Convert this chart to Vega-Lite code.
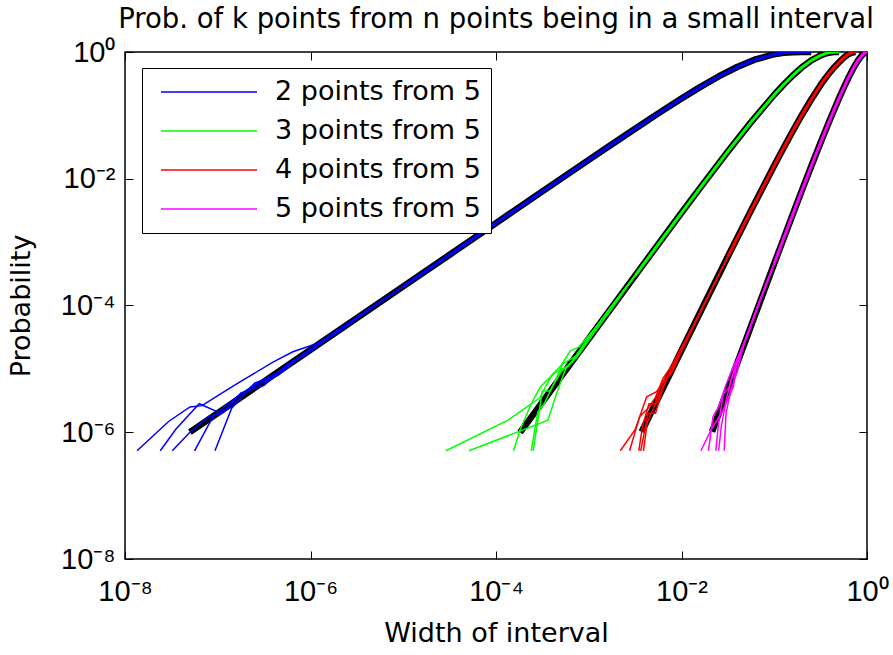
{
  "$schema": "https://vega.github.io/schema/vega-lite/v6.json",
  "width": 742,
  "height": 507,
  "autosize": {"type": "none"},
  "padding": {"left": 125, "top": 52, "right": 26, "bottom": 96},
  "background": "white",
  "title": {"text": "Prob. of k points from n points being in a small interval", "font": "DejaVu Sans", "fontSize": 27.5, "fontWeight": "normal", "color": "black", "anchor": "middle", "offset": 5},
  "config": {
    "view": {"stroke": "black", "strokeWidth": 1.5},
    "axis": {"grid": false, "domain": false}
  },
  "datasets": {
    "theory": [
      {"s": "2 points from 5", "w": 5.012e-8, "p": 1.0024e-6},
      {"s": "2 points from 5", "w": 1e-6, "p": 2e-5},
      {"s": "2 points from 5", "w": 1e-5, "p": 1.9998e-4},
      {"s": "2 points from 5", "w": 3.1623e-5, "p": 6.3244e-4},
      {"s": "2 points from 5", "w": 1e-4, "p": 1.9984e-3},
      {"s": "2 points from 5", "w": 3.1623e-4, "p": 6.309e-3},
      {"s": "2 points from 5", "w": 1e-3, "p": 0.01984},
      {"s": "2 points from 5", "w": 1.7783e-3, "p": 0.035063},
      {"s": "2 points from 5", "w": 3.1623e-3, "p": 0.06167},
      {"s": "2 points from 5", "w": 5.6234e-3, "p": 0.10753},
      {"s": "2 points from 5", "w": 0.01, "p": 0.18463},
      {"s": "2 points from 5", "w": 0.015849, "p": 0.27924},
      {"s": "2 points from 5", "w": 0.025119, "p": 0.41104},
      {"s": "2 points from 5", "w": 0.039811, "p": 0.57979},
      {"s": "2 points from 5", "w": 0.063096, "p": 0.76647},
      {"s": "2 points from 5", "w": 0.1, "p": 0.92224},
      {"s": "2 points from 5", "w": 0.125893, "p": 0.96985},
      {"s": "2 points from 5", "w": 0.158489, "p": 0.99343},
      {"s": "2 points from 5", "w": 0.199526, "p": 0.99966},
      {"s": "2 points from 5", "w": 0.223872, "p": 0.999988},
      {"s": "2 points from 5", "w": 0.25, "p": 1},
      {"s": "3 points from 5", "w": 1.8197e-4, "p": 9.93e-7},
      {"s": "3 points from 5", "w": 3.1623e-4, "p": 2.996e-6},
      {"s": "3 points from 5", "w": 1e-3, "p": 2.99e-5},
      {"s": "3 points from 5", "w": 3.1623e-3, "p": 2.9685e-4},
      {"s": "3 points from 5", "w": 0.01, "p": 2.9016e-3},
      {"s": "3 points from 5", "w": 0.017783, "p": 8.9365e-3},
      {"s": "3 points from 5", "w": 0.031623, "p": 0.02696},
      {"s": "3 points from 5", "w": 0.056234, "p": 0.07826},
      {"s": "3 points from 5", "w": 0.1, "p": 0.2115},
      {"s": "3 points from 5", "w": 0.125893, "p": 0.30457},
      {"s": "3 points from 5", "w": 0.158489, "p": 0.42638},
      {"s": "3 points from 5", "w": 0.199526, "p": 0.57501},
      {"s": "3 points from 5", "w": 0.251189, "p": 0.73771},
      {"s": "3 points from 5", "w": 0.316228, "p": 0.88593},
      {"s": "3 points from 5", "w": 0.354813, "p": 0.94189},
      {"s": "3 points from 5", "w": 0.398107, "p": 0.97937},
      {"s": "3 points from 5", "w": 0.446684, "p": 0.99699},
      {"s": "3 points from 5", "w": 0.5, "p": 1},
      {"s": "4 points from 5", "w": 3.7154e-3, "p": 1.016e-6},
      {"s": "4 points from 5", "w": 0.01, "p": 1.9602e-5},
      {"s": "4 points from 5", "w": 0.017783, "p": 1.0851e-4},
      {"s": "4 points from 5", "w": 0.031623, "p": 5.9314e-4},
      {"s": "4 points from 5", "w": 0.056234, "p": 3.1689e-3},
      {"s": "4 points from 5", "w": 0.1, "p": 0.01622},
      {"s": "4 points from 5", "w": 0.125893, "p": 0.030554},
      {"s": "4 points from 5", "w": 0.158489, "p": 0.056583},
      {"s": "4 points from 5", "w": 0.199526, "p": 0.10243},
      {"s": "4 points from 5", "w": 0.251189, "p": 0.17974},
      {"s": "4 points from 5", "w": 0.316228, "p": 0.30203},
      {"s": "4 points from 5", "w": 0.354813, "p": 0.38313},
      {"s": "4 points from 5", "w": 0.398107, "p": 0.47716},
      {"s": "4 points from 5", "w": 0.446684, "p": 0.58129},
      {"s": "4 points from 5", "w": 0.5, "p": 0.6875},
      {"s": "4 points from 5", "w": 0.537032, "p": 0.765},
      {"s": "4 points from 5", "w": 0.57544, "p": 0.84},
      {"s": "4 points from 5", "w": 0.616595, "p": 0.905},
      {"s": "4 points from 5", "w": 0.660693, "p": 0.955},
      {"s": "4 points from 5", "w": 0.707946, "p": 0.988},
      {"s": "4 points from 5", "w": 0.75, "p": 1},
      {"s": "5 points from 5", "w": 0.02138, "p": 1.0268e-6},
      {"s": "5 points from 5", "w": 0.031623, "p": 4.8735e-6},
      {"s": "5 points from 5", "w": 0.039811, "p": 1.216e-5},
      {"s": "5 points from 5", "w": 0.056234, "p": 4.7751e-5},
      {"s": "5 points from 5", "w": 0.1, "p": 4.6e-4},
      {"s": "5 points from 5", "w": 0.125893, "p": 1.1295e-3},
      {"s": "5 points from 5", "w": 0.158489, "p": 2.7548e-3},
      {"s": "5 points from 5", "w": 0.199526, "p": 6.6596e-3},
      {"s": "5 points from 5", "w": 0.251189, "p": 0.0159055},
      {"s": "5 points from 5", "w": 0.316228, "p": 0.0373508},
      {"s": "5 points from 5", "w": 0.398107, "p": 0.085595},
      {"s": "5 points from 5", "w": 0.501187, "p": 0.188988},
      {"s": "5 points from 5", "w": 0.562341, "p": 0.275064},
      {"s": "5 points from 5", "w": 0.630957, "p": 0.392445},
      {"s": "5 points from 5", "w": 0.707946, "p": 0.544633},
      {"s": "5 points from 5", "w": 0.794328, "p": 0.725623},
      {"s": "5 points from 5", "w": 0.891251, "p": 0.905421},
      {"s": "5 points from 5", "w": 0.944061, "p": 0.972064},
      {"s": "5 points from 5", "w": 1, "p": 1}
    ],
    "sims": [
      {"s": "2 points from 5", "r": "b1", "w": 1.349e-8, "p": 5.1e-7},
      {"s": "2 points from 5", "r": "b1", "w": 2.951e-8, "p": 1.479e-6},
      {"s": "2 points from 5", "r": "b1", "w": 5.012e-8, "p": 2.512e-6},
      {"s": "2 points from 5", "r": "b1", "w": 6.761e-8, "p": 2.63e-6},
      {"s": "2 points from 5", "r": "b1", "w": 1.259e-7, "p": 4.677e-6},
      {"s": "2 points from 5", "r": "b1", "w": 1.905e-7, "p": 6.761e-6},
      {"s": "2 points from 5", "r": "b1", "w": 3.981e-7, "p": 1.288e-5},
      {"s": "2 points from 5", "r": "b1", "w": 6.457e-7, "p": 1.862e-5},
      {"s": "2 points from 5", "r": "b1", "w": 1.175e-6, "p": 2.512e-5},
      {"s": "2 points from 5", "r": "b1", "w": 2.512e-6, "p": 5.012e-5},
      {"s": "2 points from 5", "r": "b1", "w": 5.012e-6, "p": 1.023e-4},
      {"s": "2 points from 5", "r": "b1", "w": 1e-5, "p": 1.9998e-4},
      {"s": "2 points from 5", "r": "b2", "w": 2.399e-8, "p": 5.1e-7},
      {"s": "2 points from 5", "r": "b2", "w": 3.548e-8, "p": 1.122e-6},
      {"s": "2 points from 5", "r": "b2", "w": 6.31e-8, "p": 2.818e-6},
      {"s": "2 points from 5", "r": "b2", "w": 1e-7, "p": 2.089e-6},
      {"s": "2 points from 5", "r": "b2", "w": 1.585e-7, "p": 3.548e-6},
      {"s": "2 points from 5", "r": "b2", "w": 2.818e-7, "p": 6.31e-6},
      {"s": "2 points from 5", "r": "b2", "w": 5.012e-7, "p": 9.55e-6},
      {"s": "2 points from 5", "r": "b2", "w": 1e-6, "p": 2.042e-5},
      {"s": "2 points from 5", "r": "b2", "w": 1.995e-6, "p": 3.802e-5},
      {"s": "2 points from 5", "r": "b2", "w": 3.981e-6, "p": 7.943e-5},
      {"s": "2 points from 5", "r": "b2", "w": 1e-5, "p": 1.9998e-4},
      {"s": "2 points from 5", "r": "b3", "w": 3.236e-8, "p": 5.1e-7},
      {"s": "2 points from 5", "r": "b3", "w": 5.012e-8, "p": 1e-6},
      {"s": "2 points from 5", "r": "b3", "w": 7.943e-8, "p": 1.778e-6},
      {"s": "2 points from 5", "r": "b3", "w": 1.122e-7, "p": 1.995e-6},
      {"s": "2 points from 5", "r": "b3", "w": 1.778e-7, "p": 4.169e-6},
      {"s": "2 points from 5", "r": "b3", "w": 3.162e-7, "p": 5.495e-6},
      {"s": "2 points from 5", "r": "b3", "w": 5.623e-7, "p": 1.175e-5},
      {"s": "2 points from 5", "r": "b3", "w": 8.913e-7, "p": 1.66e-5},
      {"s": "2 points from 5", "r": "b3", "w": 1.585e-6, "p": 3.162e-5},
      {"s": "2 points from 5", "r": "b3", "w": 3.162e-6, "p": 6.31e-5},
      {"s": "2 points from 5", "r": "b3", "w": 1e-5, "p": 1.9998e-4},
      {"s": "2 points from 5", "r": "b4", "w": 9.333e-8, "p": 5.1e-7},
      {"s": "2 points from 5", "r": "b4", "w": 1.413e-7, "p": 2.399e-6},
      {"s": "2 points from 5", "r": "b4", "w": 2.239e-7, "p": 5.012e-6},
      {"s": "2 points from 5", "r": "b4", "w": 3.548e-7, "p": 6.761e-6},
      {"s": "2 points from 5", "r": "b4", "w": 6.31e-7, "p": 1.318e-5},
      {"s": "2 points from 5", "r": "b4", "w": 1.122e-6, "p": 2.188e-5},
      {"s": "2 points from 5", "r": "b4", "w": 1.995e-6, "p": 4.169e-5},
      {"s": "2 points from 5", "r": "b4", "w": 3.981e-6, "p": 7.943e-5},
      {"s": "2 points from 5", "r": "b4", "w": 1e-5, "p": 1.9998e-4},
      {"s": "2 points from 5", "r": "b5", "w": 5.623e-8, "p": 5.1e-7},
      {"s": "2 points from 5", "r": "b5", "w": 8.913e-8, "p": 1.778e-6},
      {"s": "2 points from 5", "r": "b5", "w": 1.413e-7, "p": 2.512e-6},
      {"s": "2 points from 5", "r": "b5", "w": 2.512e-7, "p": 6.026e-6},
      {"s": "2 points from 5", "r": "b5", "w": 4.467e-7, "p": 7.943e-6},
      {"s": "2 points from 5", "r": "b5", "w": 7.943e-7, "p": 1.585e-5},
      {"s": "2 points from 5", "r": "b5", "w": 1.413e-6, "p": 2.818e-5},
      {"s": "2 points from 5", "r": "b5", "w": 3.162e-6, "p": 6.607e-5},
      {"s": "2 points from 5", "r": "b5", "w": 1e-5, "p": 1.9998e-4},
      {"s": "3 points from 5", "r": "g1", "w": 2.884e-5, "p": 5.1e-7},
      {"s": "3 points from 5", "r": "g1", "w": 1.349e-4, "p": 1.549e-6},
      {"s": "3 points from 5", "r": "g1", "w": 2.951e-4, "p": 3.467e-6},
      {"s": "3 points from 5", "r": "g1", "w": 3.981e-4, "p": 7.943e-6},
      {"s": "3 points from 5", "r": "g1", "w": 5.012e-4, "p": 1.122e-5},
      {"s": "3 points from 5", "r": "g1", "w": 6.31e-4, "p": 1.905e-5},
      {"s": "3 points from 5", "r": "g1", "w": 7.943e-4, "p": 2.239e-5},
      {"s": "3 points from 5", "r": "g1", "w": 1.259e-3, "p": 5.012e-5},
      {"s": "3 points from 5", "r": "g1", "w": 3.1623e-3, "p": 2.9685e-4},
      {"s": "3 points from 5", "r": "g2", "w": 5.129e-5, "p": 5.1e-7},
      {"s": "3 points from 5", "r": "g2", "w": 3.631e-4, "p": 1.549e-6},
      {"s": "3 points from 5", "r": "g2", "w": 4.467e-4, "p": 3.981e-6},
      {"s": "3 points from 5", "r": "g2", "w": 5.623e-4, "p": 1e-5},
      {"s": "3 points from 5", "r": "g2", "w": 7.586e-4, "p": 1.585e-5},
      {"s": "3 points from 5", "r": "g2", "w": 1e-3, "p": 2.818e-5},
      {"s": "3 points from 5", "r": "g2", "w": 1.778e-3, "p": 8.913e-5},
      {"s": "3 points from 5", "r": "g2", "w": 3.1623e-3, "p": 2.9685e-4},
      {"s": "3 points from 5", "r": "g3", "w": 1.549e-4, "p": 5.1e-7},
      {"s": "3 points from 5", "r": "g3", "w": 1.82e-4, "p": 1.096e-6},
      {"s": "3 points from 5", "r": "g3", "w": 2.399e-4, "p": 2.818e-6},
      {"s": "3 points from 5", "r": "g3", "w": 3.02e-4, "p": 5.248e-6},
      {"s": "3 points from 5", "r": "g3", "w": 4.169e-4, "p": 8.318e-6},
      {"s": "3 points from 5", "r": "g3", "w": 6.026e-4, "p": 1.122e-5},
      {"s": "3 points from 5", "r": "g3", "w": 7.943e-4, "p": 1.82e-5},
      {"s": "3 points from 5", "r": "g3", "w": 1.122e-3, "p": 3.981e-5},
      {"s": "3 points from 5", "r": "g3", "w": 3.1623e-3, "p": 2.9685e-4},
      {"s": "3 points from 5", "r": "g4", "w": 2.399e-4, "p": 5.1e-7},
      {"s": "3 points from 5", "r": "g4", "w": 2.818e-4, "p": 2.089e-6},
      {"s": "3 points from 5", "r": "g4", "w": 3.311e-4, "p": 2.818e-6},
      {"s": "3 points from 5", "r": "g4", "w": 4.365e-4, "p": 6.607e-6},
      {"s": "3 points from 5", "r": "g4", "w": 5.248e-4, "p": 1.202e-5},
      {"s": "3 points from 5", "r": "g4", "w": 7.244e-4, "p": 1.585e-5},
      {"s": "3 points from 5", "r": "g4", "w": 1e-3, "p": 3.162e-5},
      {"s": "3 points from 5", "r": "g4", "w": 1.778e-3, "p": 1e-4},
      {"s": "3 points from 5", "r": "g4", "w": 3.1623e-3, "p": 2.9685e-4},
      {"s": "3 points from 5", "r": "g5", "w": 2.512e-4, "p": 5.1e-7},
      {"s": "3 points from 5", "r": "g5", "w": 3.162e-4, "p": 4.467e-6},
      {"s": "3 points from 5", "r": "g5", "w": 3.802e-4, "p": 4.467e-6},
      {"s": "3 points from 5", "r": "g5", "w": 5.012e-4, "p": 8.913e-6},
      {"s": "3 points from 5", "r": "g5", "w": 6.607e-4, "p": 1.318e-5},
      {"s": "3 points from 5", "r": "g5", "w": 8.913e-4, "p": 2.399e-5},
      {"s": "3 points from 5", "r": "g5", "w": 1.585e-3, "p": 7.943e-5},
      {"s": "3 points from 5", "r": "g5", "w": 3.1623e-3, "p": 2.9685e-4},
      {"s": "4 points from 5", "r": "r1", "w": 2.188e-3, "p": 5.1e-7},
      {"s": "4 points from 5", "r": "r1", "w": 3.162e-3, "p": 1.096e-6},
      {"s": "4 points from 5", "r": "r1", "w": 4.217e-3, "p": 3.631e-6},
      {"s": "4 points from 5", "r": "r1", "w": 5.37e-3, "p": 4.365e-6},
      {"s": "4 points from 5", "r": "r1", "w": 7.586e-3, "p": 8.511e-6},
      {"s": "4 points from 5", "r": "r1", "w": 0.01, "p": 1.995e-5},
      {"s": "4 points from 5", "r": "r1", "w": 0.01585, "p": 7.586e-5},
      {"s": "4 points from 5", "r": "r1", "w": 0.031623, "p": 5.9314e-4},
      {"s": "4 points from 5", "r": "r2", "w": 2.754e-3, "p": 5.1e-7},
      {"s": "4 points from 5", "r": "r2", "w": 3.548e-3, "p": 1.778e-6},
      {"s": "4 points from 5", "r": "r2", "w": 4.365e-3, "p": 2.399e-6},
      {"s": "4 points from 5", "r": "r2", "w": 5.248e-3, "p": 3.548e-6},
      {"s": "4 points from 5", "r": "r2", "w": 6.31e-3, "p": 7.079e-6},
      {"s": "4 points from 5", "r": "r2", "w": 7.586e-3, "p": 1.047e-5},
      {"s": "4 points from 5", "r": "r2", "w": 8.913e-3, "p": 1.585e-5},
      {"s": "4 points from 5", "r": "r2", "w": 0.01413, "p": 5.623e-5},
      {"s": "4 points from 5", "r": "r2", "w": 0.031623, "p": 5.9314e-4},
      {"s": "4 points from 5", "r": "r3", "w": 3.467e-3, "p": 5.1e-7},
      {"s": "4 points from 5", "r": "r3", "w": 3.802e-3, "p": 1.259e-6},
      {"s": "4 points from 5", "r": "r3", "w": 4.467e-3, "p": 2.818e-6},
      {"s": "4 points from 5", "r": "r3", "w": 5.37e-3, "p": 2.818e-6},
      {"s": "4 points from 5", "r": "r3", "w": 6.607e-3, "p": 6.31e-6},
      {"s": "4 points from 5", "r": "r3", "w": 7.943e-3, "p": 8.913e-6},
      {"s": "4 points from 5", "r": "r3", "w": 0.01, "p": 1.905e-5},
      {"s": "4 points from 5", "r": "r3", "w": 0.01778, "p": 1.072e-4},
      {"s": "4 points from 5", "r": "r3", "w": 0.031623, "p": 5.9314e-4},
      {"s": "4 points from 5", "r": "r4", "w": 3.89e-3, "p": 5.1e-7},
      {"s": "4 points from 5", "r": "r4", "w": 4.266e-3, "p": 1.413e-6},
      {"s": "4 points from 5", "r": "r4", "w": 5.012e-3, "p": 2.399e-6},
      {"s": "4 points from 5", "r": "r4", "w": 6.026e-3, "p": 5.623e-6},
      {"s": "4 points from 5", "r": "r4", "w": 7.079e-3, "p": 7.943e-6},
      {"s": "4 points from 5", "r": "r4", "w": 8.913e-3, "p": 1.413e-5},
      {"s": "4 points from 5", "r": "r4", "w": 0.01122, "p": 2.818e-5},
      {"s": "4 points from 5", "r": "r4", "w": 0.031623, "p": 5.9314e-4},
      {"s": "4 points from 5", "r": "r5", "w": 3.631e-3, "p": 5.1e-7},
      {"s": "4 points from 5", "r": "r5", "w": 4.365e-3, "p": 1.995e-6},
      {"s": "4 points from 5", "r": "r5", "w": 5.248e-3, "p": 1.995e-6},
      {"s": "4 points from 5", "r": "r5", "w": 6.31e-3, "p": 5.012e-6},
      {"s": "4 points from 5", "r": "r5", "w": 7.943e-3, "p": 1.047e-5},
      {"s": "4 points from 5", "r": "r5", "w": 0.01, "p": 1.995e-5},
      {"s": "4 points from 5", "r": "r5", "w": 0.01585, "p": 7.943e-5},
      {"s": "4 points from 5", "r": "r5", "w": 0.031623, "p": 5.9314e-4},
      {"s": "5 points from 5", "r": "m1", "w": 0.01622, "p": 5.1e-7},
      {"s": "5 points from 5", "r": "m1", "w": 0.02089, "p": 1.096e-6},
      {"s": "5 points from 5", "r": "m1", "w": 0.02818, "p": 2.239e-6},
      {"s": "5 points from 5", "r": "m1", "w": 0.03631, "p": 5.248e-6},
      {"s": "5 points from 5", "r": "m1", "w": 0.03981, "p": 1.413e-5},
      {"s": "5 points from 5", "r": "m1", "w": 0.05012, "p": 3.162e-5},
      {"s": "5 points from 5", "r": "m1", "w": 0.07079, "p": 1.259e-4},
      {"s": "5 points from 5", "r": "m1", "w": 0.1, "p": 4.6e-4},
      {"s": "5 points from 5", "r": "m2", "w": 0.0195, "p": 5.1e-7},
      {"s": "5 points from 5", "r": "m2", "w": 0.02188, "p": 1.778e-6},
      {"s": "5 points from 5", "r": "m2", "w": 0.02512, "p": 2.512e-6},
      {"s": "5 points from 5", "r": "m2", "w": 0.0302, "p": 5.623e-6},
      {"s": "5 points from 5", "r": "m2", "w": 0.03548, "p": 1e-5},
      {"s": "5 points from 5", "r": "m2", "w": 0.04169, "p": 1.66e-5},
      {"s": "5 points from 5", "r": "m2", "w": 0.05012, "p": 3.02e-5},
      {"s": "5 points from 5", "r": "m2", "w": 0.07079, "p": 1.202e-4},
      {"s": "5 points from 5", "r": "m2", "w": 0.1, "p": 4.6e-4},
      {"s": "5 points from 5", "r": "m3", "w": 0.02344, "p": 5.1e-7},
      {"s": "5 points from 5", "r": "m3", "w": 0.02512, "p": 1.413e-6},
      {"s": "5 points from 5", "r": "m3", "w": 0.02818, "p": 3.981e-6},
      {"s": "5 points from 5", "r": "m3", "w": 0.03236, "p": 5.012e-6},
      {"s": "5 points from 5", "r": "m3", "w": 0.03802, "p": 1.122e-5},
      {"s": "5 points from 5", "r": "m3", "w": 0.04467, "p": 1.995e-5},
      {"s": "5 points from 5", "r": "m3", "w": 0.0631, "p": 7.943e-5},
      {"s": "5 points from 5", "r": "m3", "w": 0.1, "p": 4.6e-4},
      {"s": "5 points from 5", "r": "m4", "w": 0.02884, "p": 5.1e-7},
      {"s": "5 points from 5", "r": "m4", "w": 0.0302, "p": 1.995e-6},
      {"s": "5 points from 5", "r": "m4", "w": 0.03388, "p": 4.467e-6},
      {"s": "5 points from 5", "r": "m4", "w": 0.03981, "p": 8.913e-6},
      {"s": "5 points from 5", "r": "m4", "w": 0.04677, "p": 2.399e-5},
      {"s": "5 points from 5", "r": "m4", "w": 0.0631, "p": 7.943e-5},
      {"s": "5 points from 5", "r": "m4", "w": 0.1, "p": 4.6e-4},
      {"s": "5 points from 5", "r": "m5", "w": 0.02512, "p": 5.1e-7},
      {"s": "5 points from 5", "r": "m5", "w": 0.02692, "p": 1.259e-6},
      {"s": "5 points from 5", "r": "m5", "w": 0.0302, "p": 3.162e-6},
      {"s": "5 points from 5", "r": "m5", "w": 0.03467, "p": 7.079e-6},
      {"s": "5 points from 5", "r": "m5", "w": 0.04074, "p": 1.259e-5},
      {"s": "5 points from 5", "r": "m5", "w": 0.04786, "p": 2.63e-5},
      {"s": "5 points from 5", "r": "m5", "w": 0.07079, "p": 1.259e-4},
      {"s": "5 points from 5", "r": "m5", "w": 0.1, "p": 4.6e-4}
    ]
  },
  "layer": [
    {
      "data": {"name": "theory"},
      "mark": {"type": "line", "color": "black", "strokeWidth": 6.5, "strokeJoin": "round", "clip": true},
      "encoding": {
        "x": {"field": "w", "type": "quantitative", "scale": {"type": "log", "domain": [1e-8, 1], "nice": false},
          "axis": {"orient": "bottom", "values": [1e-8, 1e-6, 1e-4, 1e-2, 1], "labelExpr": "datum.value < 1e-7 ? '10⁻⁸' : datum.value < 1e-5 ? '10⁻⁶' : datum.value < 1e-3 ? '10⁻⁴' : datum.value < 0.1 ? '10⁻²' : '10⁰'", "labelFont": "Liberation Sans", "labelFontSize": 29, "labelColor": "black", "labelPadding": 26, "labelFlush": false, "labelOverlap": false, "tickSize": -8, "tickColor": "black", "tickWidth": 1, "domain": false, "grid": false, "title": "Width of interval", "titleFont": "DejaVu Sans", "titleFontSize": 27, "titleFontWeight": "normal", "titleColor": "black", "titlePadding": 14}},
        "y": {"field": "p", "type": "quantitative", "scale": {"type": "log", "domain": [1e-8, 1], "nice": false},
          "axis": {"orient": "left", "values": [1e-8, 1e-6, 1e-4, 1e-2, 1], "labelExpr": "datum.value < 1e-7 ? '10⁻⁸' : datum.value < 1e-5 ? '10⁻⁶' : datum.value < 1e-3 ? '10⁻⁴' : datum.value < 0.1 ? '10⁻²' : '10⁰'", "labelFont": "Liberation Sans", "labelFontSize": 29, "labelColor": "black", "labelPadding": 18, "labelFlush": false, "labelOverlap": false, "tickSize": -8, "tickColor": "black", "tickWidth": 1, "domain": false, "grid": false, "title": "Probability", "titleFont": "DejaVu Sans", "titleFontSize": 27, "titleFontWeight": "normal", "titleColor": "black", "titlePadding": 25}},
        "detail": {"field": "s", "type": "nominal"}
      }
    },
    {
      "data": {"name": "sims"},
      "mark": {"type": "line", "strokeWidth": 1.5, "clip": true},
      "encoding": {
        "x": {"field": "w", "type": "quantitative", "scale": {"type": "log", "domain": [1e-8, 1], "nice": false}, "axis": null},
        "y": {"field": "p", "type": "quantitative", "scale": {"type": "log", "domain": [1e-8, 1], "nice": false}, "axis": null},
        "detail": {"field": "r", "type": "nominal"},
        "color": {"field": "s", "type": "nominal",
          "scale": {"domain": ["2 points from 5", "3 points from 5", "4 points from 5", "5 points from 5"], "range": ["#0000ff", "#00ff00", "#ff0000", "#ff00ff"]},
          "legend": {"orient": "none", "legendX": 17, "legendY": 16, "title": null, "symbolType": "stroke", "symbolSize": 9216, "symbolStrokeWidth": 1.5, "symbolOffset": 8, "clipHeight": 28, "rowPadding": 11, "labelOffset": 17, "labelLimit": 500, "labelFont": "DejaVu Sans", "labelFontSize": 27, "labelColor": "black", "strokeColor": "black", "fillColor": "white", "padding": 10}}
      }
    },
    {
      "data": {"name": "theory"},
      "transform": [{"filter": "datum.p >= 1.9e-4"}],
      "mark": {"type": "line", "strokeWidth": 3, "strokeJoin": "round", "clip": true},
      "encoding": {
        "x": {"field": "w", "type": "quantitative", "scale": {"type": "log", "domain": [1e-8, 1], "nice": false},
          "axis": {"orient": "top", "values": [1e-8, 1e-6, 1e-4, 1e-2, 1], "labels": false, "tickSize": -8, "tickColor": "black", "tickWidth": 1, "domain": false, "grid": false, "title": null}},
        "y": {"field": "p", "type": "quantitative", "scale": {"type": "log", "domain": [1e-8, 1], "nice": false},
          "axis": {"orient": "right", "values": [1e-8, 1e-6, 1e-4, 1e-2, 1], "labels": false, "tickSize": -8, "tickColor": "black", "tickWidth": 1, "domain": false, "grid": false, "title": null}},
        "color": {"field": "s", "type": "nominal",
          "scale": {"domain": ["2 points from 5", "3 points from 5", "4 points from 5", "5 points from 5"], "range": ["#0000ff", "#00ff00", "#ff0000", "#ff00ff"]},
          "legend": {"orient": "none", "legendX": 17, "legendY": 16, "title": null, "symbolType": "stroke", "symbolSize": 9216, "symbolStrokeWidth": 1.5, "symbolOffset": 8, "clipHeight": 28, "rowPadding": 11, "labelOffset": 17, "labelLimit": 500, "labelFont": "DejaVu Sans", "labelFontSize": 27, "labelColor": "black", "strokeColor": "black", "fillColor": "white", "padding": 10}}
      }
    }
  ],
  "resolve": {"axis": {"x": "independent", "y": "independent"}}
}
